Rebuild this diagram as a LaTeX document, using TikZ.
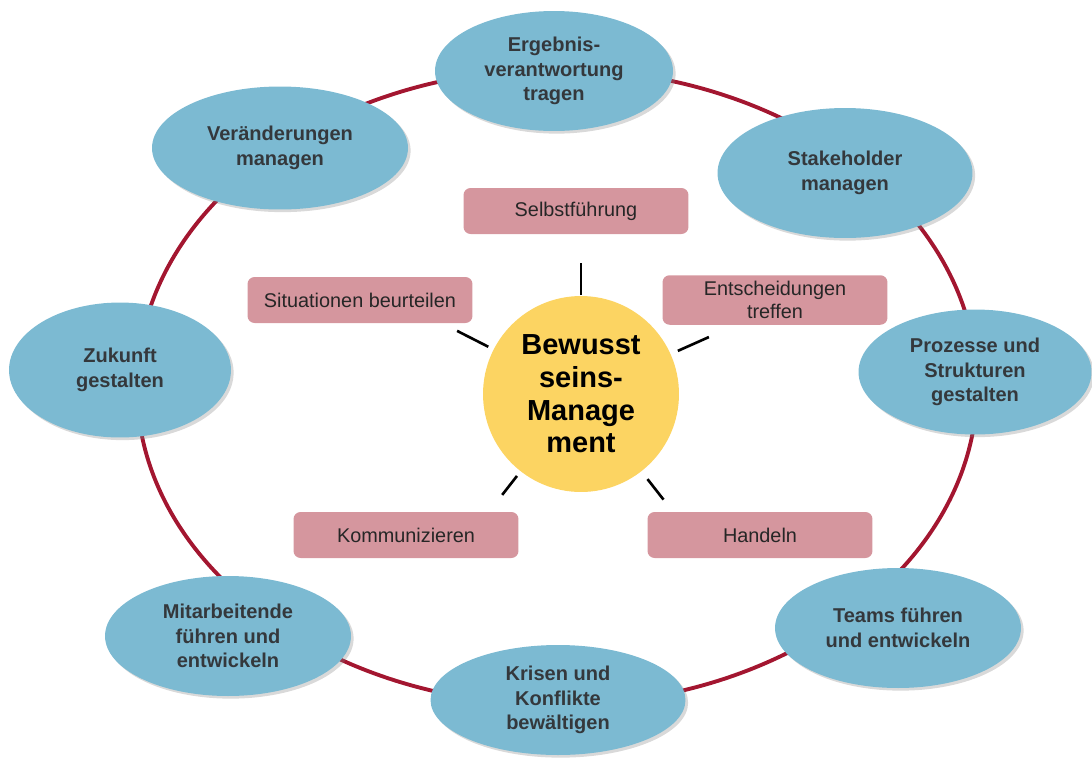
\documentclass[tikz,border=0pt]{standalone}
\usepackage{fontspec}
\setmainfont{Liberation Sans}
\usetikzlibrary{calc,shapes,shadows}
\definecolor{my_blue}{RGB}{124, 186, 210}
\definecolor{my_ring}{RGB}{163, 22, 48}
\definecolor{my_pink}{RGB}{213, 150, 158}
\definecolor{my_yellow}{RGB}{252, 212, 98}
\definecolor{my_text}{RGB}{52, 56, 60}
\tikzset{
  topic/.style = {ellipse, align=center, inner sep=0pt, fill=my_blue, draw=none,
  text=my_text, font=\bfseries\fontsize{11.4}{14}\selectfont,
  drop shadow={opacity=0.3, shadow xshift=1.5pt, shadow yshift=-1.5pt}},
  skill/.style = {rectangle, rounded corners=4pt, fill=my_pink, draw=none,
  minimum width=4.5cm, minimum height=0.92cm, align=center, text=black!85,
  font=\fontsize{11.3}{13.2}\selectfont},
  hub/.style = {circle, fill=my_yellow, draw=none, minimum size=3.92cm,
  align=center, font=\bfseries\fontsize{16.5}{18.6}\selectfont}
}

\begin{document}
\begin{tikzpicture}[x=0.02cm, y=0.02cm,
        ring/.style={draw=my_ring, line width=2.2pt},
        tick/.style={draw=black, line width=1.5pt}]
    \useasboundingbox (0,0) rectangle (1092,-765);
    % outer ring
    \draw[ring] (557,-387) ellipse [x radius=420, y radius=318];
    % topics on the ring
    \node [topic, minimum width=4.76cm, minimum height=2.4cm] (ergebnis) at (554,-71)
        {Ergebnis-\\verantwortung\\tragen};
    \node [topic, minimum width=5.1cm, minimum height=2.6cm] (stakeholder) at (845,-173)
        {Stakeholder\\managen};
    \node [topic, minimum width=4.66cm, minimum height=2.5cm] (prozesse) at (975,-372)
        {Prozesse und\\Strukturen\\gestalten};
    \node [topic, minimum width=4.92cm, minimum height=2.4cm] (teams) at (898,-628)
        {Teams führen\\und entwickeln};
    \node [topic, minimum width=5.1cm, minimum height=2.2cm] (krisen) at (558,-700)
        {Krisen und\\Konflikte\\bewältigen};
    \node [topic, minimum width=4.92cm, minimum height=2.4cm] (mitarbeitende) at (228,-636)
        {Mitarbeitende\\führen und\\entwickeln};
    \node [topic, minimum width=4.44cm, minimum height=2.7cm] (zukunft) at (120,-370)
        {Zukunft\\gestalten};
    \node [topic, minimum width=5.12cm, minimum height=2.46cm] (veraenderungen) at (280,-148)
        {Veränderungen\\managen};
    % centre
    \node [hub] (bewusst) at (581,-394) {Bewusst\\seins-\\Manage\\ment};
    \node [skill] (selbst) at (576,-211) {Selbstführung};
    \node [skill] (situationen) at (360,-300) {Situationen beurteilen};
    \node [skill] (entscheidungen) at (775,-300) {Entscheidungen\\treffen};
    \node [skill] (kommunizieren) at (406,-535) {Kommunizieren};
    \node [skill] (handeln) at (760,-535) {Handeln};
    \foreach \a/\ra/\rb in {90/99/131, 153/104/139, 24/106/140, 232/104/128, -52/108/134}
        \draw[tick] ($(bewusst.center)+(\a:\ra)$) -- ($(bewusst.center)+(\a:\rb)$);
\end{tikzpicture}
\end{document}
